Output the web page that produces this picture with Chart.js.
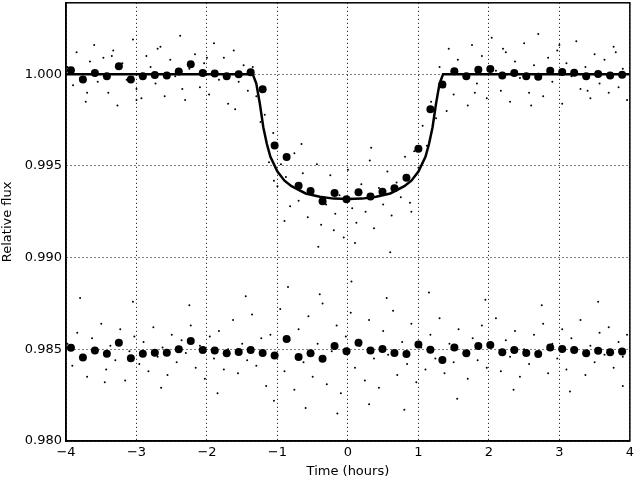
<!DOCTYPE html>
<html>
<head>
<meta charset="utf-8">
<script src="https://cdn.jsdelivr.net/npm/chart.js@4"></script>
<style>
  html, body { margin: 0; padding: 0; background: #fff; overflow: hidden; }
  #wrap { width: 638px; height: 488px; margin-top: -9px; }
</style>
</head>
<body>
<div id="wrap"><canvas id="lc"></canvas></div>
<script>
// binned points, 10 min bins
const binTimes = [-3.93,-3.76,-3.59,-3.42,-3.25,-3.08,-2.91,-2.74,-2.57,-2.40,-2.23,-2.06,-1.89,-1.72,-1.55,-1.38,-1.21,-1.04,-0.87,-0.70,-0.53,-0.36,-0.19,-0.02,
  0.15,0.32,0.49,0.66,0.83,1.00,1.17,1.34,1.51,1.68,1.85,2.02,2.19,2.36,2.53,2.70,2.87,3.04,3.21,3.38,3.55,3.72,3.89,4.06];
const binTransit = [1.00022,0.99971,1.00007,0.99989,1.00044,0.99971,0.99989,0.99996,0.99993,1.00015,1.00055,1.00007,1.00004,0.99989,1.00000,1.00011,0.99918,0.99612,0.99549,0.99392,0.99363,0.99308,0.99352,0.99318,
  0.99357,0.99333,0.99359,0.99379,0.99436,0.99594,0.99810,0.99944,1.00016,0.99989,1.00025,1.00029,0.99994,1.00007,0.99989,0.99986,1.00020,1.00012,1.00009,0.99989,1.00001,0.99994,0.99997,0.99975];
const binCheck = [0.98509,0.98456,0.98494,0.98476,0.98536,0.98452,0.98476,0.98482,0.98482,0.98500,0.98546,0.98496,0.98494,0.98478,0.98486,0.98496,0.98480,0.98466,0.98556,0.98458,0.98478,0.98448,0.98518,0.98490,
  0.98536,0.98494,0.98502,0.98480,0.98474,0.98526,0.98498,0.98442,0.98510,0.98478,0.98518,0.98524,0.98484,0.98496,0.98480,0.98474,0.98510,0.98502,0.98496,0.98478,0.98492,0.98484,0.98488,0.98464];

// transit model curve
const modelTimes = [-4,-1.35,-1.3,-1.25,-1.2,-1.15,-1.1,-1.0,-0.9,-0.8,-0.6,-0.4,-0.2,0,0.2,0.4,0.6,0.8,0.9,1.0,1.1,1.15,1.2,1.25,1.3,1.35,4];
const modelFlux = [1,1,0.9995,0.9984,0.9971,0.9962,0.9955,0.9947,0.9942,0.9939,0.9935,0.99332,0.99322,0.9932,0.99322,0.99332,0.9935,0.9939,0.9942,0.9947,0.9955,0.9962,0.9971,0.9984,0.9995,1,1];

// individual exposures (subset)
const rawTimesTop = [-3.98,-3.9,-3.85,-3.8,-3.72,-3.66,-3.6,-3.55,-3.47,-3.4,-3.33,-3.27,-3.2,-3.14,-3.05,-3.0,-2.93,-2.86,-2.8,-2.73,-2.66,-2.6,-2.52,-2.45,-2.38,-2.31,-2.25,-2.17,-2.1,-2.04,-1.97,-1.9,-1.83,-1.76,-1.7,-1.62,-1.55,-1.48,-1.42,-1.35,-1.3,-1.24,-1.18,-1.12,-1.06,-1.0,-0.95,-0.88,-0.82,-0.76,-0.7,-0.64,-0.57,-0.5,-0.44,-0.38,-0.31,-0.25,-0.18,-0.12,-0.06,0.0,0.06,0.12,0.19,0.25,0.31,0.37,0.44,0.5,0.56,0.62,0.69,0.75,0.81,0.88,0.94,1.0,1.06,1.12,1.18,1.25,1.3,1.37,1.43,1.5,1.56,1.63,1.7,1.76,1.83,1.9,1.97,2.04,2.1,2.17,2.24,2.3,2.37,2.44,2.5,2.57,2.64,2.7,2.77,2.84,2.9,2.97,3.04,3.1,3.17,3.24,3.3,3.37,3.44,3.5,3.57,3.64,3.7,3.77,3.84,3.9,3.96,
  -3.7,-3.35,-3.0,-2.7,-2.35,-2.0,-1.6,-1.05,-0.9,-0.66,-0.42,-0.2,0.1,0.33,0.6,0.9,1.4,1.8,2.2,2.6,3.0,3.4,3.8];
const rawFluxTop = [1.0004,0.9994,1.0012,0.9998,0.9985,1.0007,1.0016,0.9996,1.0009,0.9990,1.0013,0.9983,1.0006,0.9997,1.0019,0.9992,0.9987,1.0010,1.0004,0.9995,1.0015,0.9988,1.0008,0.9999,1.0021,0.9986,1.0003,1.0011,0.9993,1.0006,0.9989,1.0017,0.9997,1.0009,0.9984,1.0013,0.9996,1.0005,0.9991,1.0004,0.9988,0.9974,0.9978,0.9952,0.9968,0.9939,0.9951,0.9944,0.9928,0.9957,0.9931,0.9946,0.9922,0.9937,0.9951,0.9918,0.9929,0.9945,0.9924,0.9934,0.9911,0.9948,0.9927,0.9919,0.9940,0.9925,0.9953,0.9916,0.9938,0.9929,0.9947,0.9923,0.9941,0.9933,0.9955,0.9930,0.9958,0.9949,0.9972,0.9961,0.9985,0.9976,1.0004,0.9993,1.0014,0.9989,1.0008,1.0000,0.9983,1.0016,0.9995,1.0010,0.9987,1.0020,1.0002,0.9991,1.0012,0.9985,1.0007,0.9998,1.0017,0.9990,1.0005,1.0022,0.9988,1.0009,0.9996,1.0013,0.9984,1.0006,0.9999,1.0018,0.9992,1.0004,0.9987,1.0011,0.9995,1.0008,0.9990,1.0015,0.9993,1.0003,0.9986,
  0.9990,1.0010,0.9986,1.0014,0.9992,1.0009,0.9981,0.9942,0.9920,0.9962,0.9906,0.9915,0.9908,0.9960,0.9903,0.9925,0.9980,0.9990,1.0014,0.9983,1.0016,0.9991,1.0012];
const rawTimesCheck = [-3.98,-3.91,-3.84,-3.78,-3.7,-3.63,-3.57,-3.5,-3.43,-3.37,-3.3,-3.23,-3.16,-3.1,-3.03,-2.96,-2.9,-2.83,-2.76,-2.7,-2.63,-2.56,-2.5,-2.43,-2.36,-2.3,-2.23,-2.16,-2.1,-2.03,-1.96,-1.9,-1.83,-1.76,-1.7,-1.63,-1.56,-1.5,-1.43,-1.36,-1.3,-1.23,-1.16,-1.1,-1.03,-0.96,-0.9,-0.83,-0.76,-0.7,-0.63,-0.56,-0.5,-0.43,-0.36,-0.3,-0.23,-0.16,-0.1,-0.03,0.04,0.1,0.17,0.24,0.3,0.37,0.44,0.5,0.57,0.64,0.7,0.77,0.84,0.9,0.97,1.04,1.1,1.17,1.24,1.3,1.37,1.44,1.5,1.57,1.64,1.7,1.77,1.84,1.9,1.97,2.04,2.1,2.17,2.24,2.3,2.37,2.44,2.5,2.57,2.64,2.7,2.77,2.84,2.9,2.97,3.04,3.1,3.17,3.24,3.3,3.37,3.44,3.5,3.57,3.64,3.7,3.77,3.84,3.9,3.96,
  -3.8,-3.45,-3.05,-2.65,-2.25,-1.85,-1.45,-1.05,-0.85,-0.6,-0.4,-0.15,0.05,0.3,0.55,0.8,1.15,1.55,1.95,2.35,2.75,3.15,3.55,3.9];
const rawFluxCheck = [0.9853,0.9841,0.9859,0.9847,0.9835,0.9856,0.9850,0.9864,0.9839,0.9852,0.9844,0.9861,0.9833,0.9849,0.9857,0.9842,0.9854,0.9838,0.9862,0.9846,0.9851,0.9836,0.9858,0.9843,0.9855,0.9848,0.9863,0.9840,0.9852,0.9834,0.9857,0.9845,0.9860,0.9839,0.9850,0.9866,0.9837,0.9853,0.9844,0.9869,0.9841,0.9856,0.9830,0.9858,0.9846,0.9872,0.9838,0.9855,0.9828,0.9861,0.9843,0.9868,0.9835,0.9853,0.9875,0.9831,0.9849,0.9863,0.9826,0.9857,0.9870,0.9840,0.9852,0.9833,0.9866,0.9845,0.9829,0.9860,0.9847,0.9871,0.9836,0.9854,0.9842,0.9864,0.9832,0.9851,0.9839,0.9858,0.9845,0.9867,0.9837,0.9853,0.9843,0.9861,0.9848,0.9834,0.9856,0.9844,0.9863,0.9840,0.9852,0.9867,0.9838,0.9855,0.9846,0.9860,0.9835,0.9850,0.9842,0.9858,0.9847,0.9864,0.9837,0.9853,0.9845,0.9861,0.9839,0.9856,0.9849,0.9866,0.9836,0.9852,0.9843,0.9859,0.9847,0.9862,0.9840,0.9854,0.9846,0.9858,
  0.9878,0.9832,0.9876,0.9829,0.9874,0.9826,0.9879,0.9822,0.9884,0.9818,0.9880,0.9815,0.9887,0.9820,0.9878,0.9817,0.9881,0.9823,0.9877,0.9828,0.9874,0.9827,0.9876,0.9830];

const xTicks = [-4,-3,-2,-1,0,1,2,3,4];
const yTicks = [0.980,0.985,0.990,0.995,1.000];

const pts = (xs, ys) => xs.map((x, i) => ({ x: x, y: ys[i] }));
const minus = v => (v < 0 ? '\u2212' + Math.abs(v) : String(v));
const font = { family: 'DejaVu Sans', size: 13 };

new Chart(document.getElementById('lc'), {
    type: 'scatter',
    data: {
        datasets: [
            { data: pts(modelTimes, modelFlux), showLine: true, borderColor: '#000', borderWidth: 2.5, pointRadius: 0, order: 0 },
            { data: pts(binTimes, binTransit), backgroundColor: '#000', borderWidth: 0, pointRadius: 4, order: 1 },
            { data: pts(binTimes, binCheck), backgroundColor: '#000', borderWidth: 0, pointRadius: 4, order: 1 },
            { data: pts(rawTimesTop, rawFluxTop), backgroundColor: '#000', borderWidth: 0, pointRadius: 1, order: 2 },
            { data: pts(rawTimesCheck, rawFluxCheck), backgroundColor: '#000', borderWidth: 0, pointRadius: 1, order: 2 }
        ]
    },
    options: {
        responsive: true,
        maintainAspectRatio: false,
        animation: false,
        layout: { padding: { left: 0, top: 0, right: 0, bottom: 0 } },
        plugins: { legend: { display: false }, tooltip: { enabled: false } },
        scales: {
            x: {
                type: 'linear', min: -4, max: 4,
                afterBuildTicks: a => { a.ticks = xTicks.map(v => ({ value: v })); },
                afterFit: a => { a.height = 38; },
                ticks: { color: '#000', font: font, padding: 4, callback: minus },
                grid: { color: '#000', lineWidth: 1, drawTicks: false },
                border: { color: '#000', width: 1.5, dash: [1, 3] },
                title: { display: true, text: 'Time (hours)', color: '#000', font: font, padding: 0 }
            },
            y: {
                type: 'linear', min: 0.98, max: 1.0039,
                afterBuildTicks: a => { a.ticks = yTicks.map(v => ({ value: v })); },
                afterFit: a => { a.width = 66; },
                ticks: { color: '#000', font: font, padding: 4, callback: v => v.toFixed(3) },
                grid: { color: '#000', lineWidth: 1, drawTicks: false },
                border: { color: '#000', width: 1.5, dash: [1, 3] },
                title: { display: true, text: 'Relative flux', color: '#000', font: font, padding: 0 }
            }
        }
    },
    plugins: [{
        id: 'frame',
        beforeDatasetsDraw(chart) {
            const { ctx, chartArea: c } = chart;
            ctx.save();
            ctx.strokeStyle = '#000';
            ctx.lineWidth = 1.5;
            ctx.strokeRect(c.left, c.top, c.right - c.left, c.bottom - c.top);
            ctx.restore();
        }
    }]
});
</script>
</body>
</html>
